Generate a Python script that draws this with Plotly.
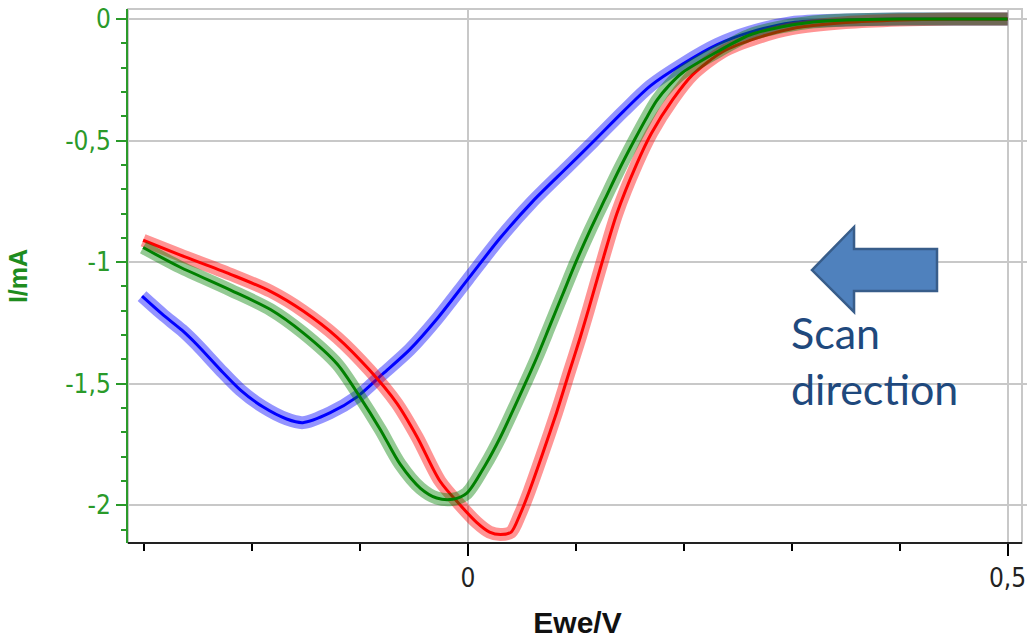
import plotly.graph_objects as go

# ---- data ----
blue_x = [-0.302, -0.283, -0.265, -0.251, -0.230, -0.211, -0.190, -0.168, -0.153, -0.128,
          -0.103, -0.079, -0.054, -0.029, 0.000, 0.030, 0.060, 0.092, 0.116, 0.144,
          0.169, 0.199, 0.231, 0.261, 0.300, 0.350, 0.400, 0.450, 0.500]
blue_y = [-1.14, -1.215, -1.28, -1.34, -1.44, -1.525, -1.595, -1.645, -1.66, -1.62,
          -1.555, -1.46, -1.36, -1.235, -1.07, -0.90, -0.75, -0.61, -0.505, -0.38,
          -0.275, -0.185, -0.105, -0.055, -0.015, -0.004, 0.0, 0.0, 0.0]

green_x = [-0.301, -0.267, -0.220, -0.183, -0.153, -0.121, -0.100, -0.081, -0.063, -0.044,
           -0.029, -0.014, -0.001, 0.016, 0.030, 0.053, 0.064, 0.076, 0.088, 0.100,
           0.113, 0.127, 0.140, 0.154, 0.165, 0.175, 0.187, 0.199, 0.231, 0.261,
           0.290, 0.320, 0.350, 0.400, 0.450, 0.500]
green_y = [-0.94, -1.02, -1.115, -1.195, -1.29, -1.42, -1.555, -1.69, -1.83, -1.93,
           -1.97, -1.975, -1.95, -1.835, -1.72, -1.50, -1.39, -1.26, -1.13, -1.00,
           -0.87, -0.74, -0.62, -0.50, -0.41, -0.335, -0.27, -0.22, -0.135, -0.066,
           -0.033, -0.012, -0.004, 0.0, 0.0, 0.0]

red_x = [-0.301, -0.267, -0.220, -0.183, -0.153, -0.121, -0.091, -0.066, -0.047, -0.026,
         -0.007, 0.008, 0.020, 0.030, 0.040, 0.048, 0.057, 0.069, 0.082, 0.094,
         0.104, 0.112, 0.123, 0.138, 0.156, 0.170, 0.190, 0.208, 0.236, 0.268,
         0.300, 0.350, 0.400, 0.450, 0.500]
red_y = [-0.91, -0.97, -1.05, -1.12, -1.20, -1.31, -1.445, -1.58, -1.72, -1.90,
         -2.00, -2.07, -2.11, -2.12, -2.11, -2.04, -1.94, -1.79, -1.62, -1.45,
         -1.31, -1.19, -1.02, -0.80, -0.60, -0.47, -0.33, -0.23, -0.135, -0.078,
         -0.04, -0.015, -0.004, 0.0, 0.0]

x_tick_vals = [0, 0.5]
x_tick_text = ["0", "0,5"]
y_tick_vals = [0, -0.5, -1, -1.5, -2]
y_tick_text = ["0", "-0,5", "-1", "-1,5", "-2"]

# ---- layout geometry ----
W, H = 1027, 639
ML, MR, MT, MB = 128, 0, 9, 96
PW, PH = W - ML - MR, H - MT - MB
FRAME_RIGHT = (1022 - ML) / PW

def pp(px, py):
    return (px - ML) / PW, (H - MB - py) / PH

fig = go.Figure()

series = [
    (blue_x, blue_y, (0, 0, 255)),
    (red_x, red_y, (255, 0, 0)),
    (green_x, green_y, (0, 128, 0)),
]
for xs, ys, (r, g, b) in series:
    fig.add_trace(go.Scatter(
        x=xs, y=ys, mode="lines",
        line=dict(color=f"rgba({r},{g},{b},0.42)", width=13, shape="spline", smoothing=0.8),
        hoverinfo="skip", showlegend=False))
    fig.add_trace(go.Scatter(
        x=xs, y=ys, mode="lines",
        line=dict(color=f"rgb({r},{g},{b})", width=3, shape="spline", smoothing=0.8),
        showlegend=False))

GREEN_AX = "#2a9a2a"
GRID = "#c8c8c8"
tick_font = dict(family="Liberation Sans Narrow, DejaVu Sans Condensed, Liberation Sans, sans-serif", size=26)

fig.update_xaxes(
    range=[-0.315, 0.518],
    showline=False,
    ticks="outside", ticklen=12, tickwidth=2, tickcolor="black",
    tickmode="array", tickvals=x_tick_vals, ticktext=x_tick_text,
    tickfont=dict(color="#222222", **tick_font),
    showgrid=True, gridcolor=GRID, gridwidth=2, zeroline=False,
    minor=dict(tickmode="linear", tick0=0, dtick=0.1, ticks="outside", ticklen=7,
               tickwidth=2, tickcolor="black", showgrid=False),
    title=dict(text="Ewe/V", font=dict(family="Liberation Sans, Arial, sans-serif", size=30,
                                          color="#111111", weight="bold"), standoff=20),
)
fig.update_yaxes(
    range=[-2.155, 0.041],
    showline=True, linecolor=GREEN_AX, linewidth=2,
    ticks="outside", ticklen=10, tickwidth=2, tickcolor=GREEN_AX,
    tickmode="array", tickvals=y_tick_vals, ticktext=y_tick_text,
    tickfont=dict(color=GREEN_AX, **tick_font),
    showgrid=True, gridcolor=GRID, gridwidth=2, zeroline=False,
    minor=dict(tickmode="linear", tick0=0, dtick=0.1, ticks="outside", ticklen=5,
               tickwidth=2, tickcolor=GREEN_AX, showgrid=False),
    title=dict(text="I/mA", font=dict(family="Liberation Sans, Arial, sans-serif", size=25,
                                         color="#1e8c1e", weight="bold"), standoff=30),
)

# plot frame (grey top/right border) and black bottom axis line
fig.add_shape(type="rect", xref="paper", yref="paper", x0=0, y0=0, x1=FRAME_RIGHT, y1=1,
              line=dict(color=GRID, width=2), layer="below")
fig.add_shape(type="line", xref="paper", yref="paper", x0=0, y0=0, x1=FRAME_RIGHT, y1=0,
              line=dict(color="#222222", width=2), layer="above")

# block arrow "Scan direction"
pts = [(812, 270), (854, 227), (854, 249), (937, 249), (937, 291), (854, 291), (854, 312)]
path = "M " + " L ".join(f"{pp(a, b)[0]:.4f},{pp(a, b)[1]:.4f}" for a, b in pts) + " Z"
fig.add_shape(type="path", xref="paper", yref="paper", path=path,
              fillcolor="#4f81bd", line=dict(color="#385d8a", width=2.5), layer="above")

tx, ty = pp(789, 305)
fig.add_annotation(xref="paper", yref="paper", x=tx, y=ty, xanchor="left", yanchor="top",
                   text="Scan<br>direction", showarrow=False, align="left",
                   font=dict(family="Lato, Open Sans, sans-serif", size=43, color="#1f497d"))

fig.update_layout(
    width=W, height=H,
    margin=dict(l=ML, r=MR, t=MT, b=MB, pad=0),
    paper_bgcolor="white", plot_bgcolor="white",
    showlegend=False,
)

fig.write_html("out.html")
